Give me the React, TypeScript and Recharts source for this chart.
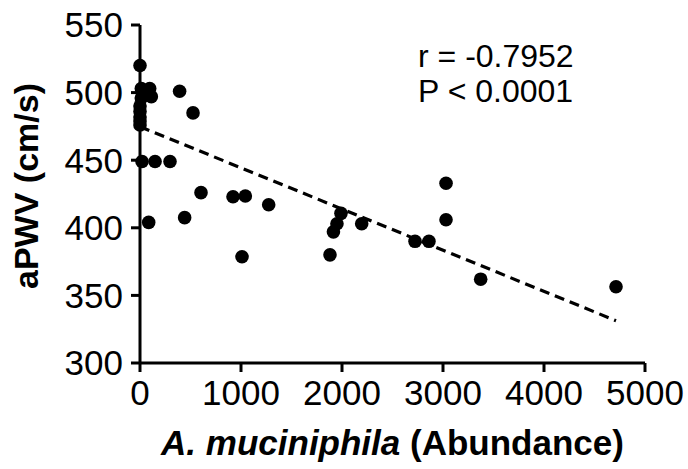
import React from 'react';
import { ScatterChart, Scatter, XAxis, YAxis, ReferenceLine, Label } from 'recharts';

const abundance = [0, 13, 96, 112, 13, 0, 0, 0, 0, 0, 392, 525, 20, 149, 297, 86, 442, 604, 921, 1043, 1274, 1010, 1990, 1950, 1915, 2195, 1881, 2723, 2861, 3030, 3030, 3373, 4713];
const apwv = [520, 503, 503, 497, 496, 490, 486, 482, 479, 476, 501, 485, 449, 449, 449, 404, 407.5, 426, 423, 423.5, 417, 378.6, 410.7, 403, 397, 403, 380, 390, 390, 433, 406, 362, 356.4];
const xTicks = [0, 1000, 2000, 3000, 4000, 5000];
const yTicks = [300, 350, 400, 450, 500, 550];
const fitX = [0, 4713];
const fitY = [474.8, 331.3];
const statLines = ['r = -0.7952', 'P < 0.0001'];
const xTitleItalic = 'A. muciniphila';
const xTitleRest = ' (Abundance)';
const yTitle = 'aPWV (cm/s)';

const points = abundance.map((x, i) => ({ x, y: apwv[i] }));
const fitSegment = [{ x: fitX[0], y: fitY[0] }, { x: fitX[1], y: fitY[1] }];

const FONT = '"Liberation Sans", Arial, sans-serif';

const Dot = (props: any) => <circle cx={props.cx} cy={props.cy} r={6.8} fill="#000" />;

export default function App() {
  return (
    <div style={{ position: 'absolute', left: 0, top: 0, width: 688, height: 469, background: '#fff', fontFamily: FONT }}>
      <ScatterChart width={688} height={469} margin={{ top: 25, right: 43, left: 0, bottom: 0 }}>
        <XAxis
          type="number"
          dataKey="x"
          domain={[0, 5000]}
          ticks={xTicks}
          interval={0}
          height={106}
          tickSize={9}
          tickMargin={8}
          axisLine={{ stroke: '#000', strokeWidth: 3 }}
          tickLine={{ stroke: '#000', strokeWidth: 3 }}
          tick={{ fill: '#000', fontSize: 35, fontFamily: FONT }}
        >
          <Label
            content={(p: any) => {
              const vb = p.viewBox;
              return (
                <text x={vb.x + vb.width / 2} y={vb.y + 92} textAnchor="middle" fontSize={35} fontWeight="bold" fontFamily={FONT} fill="#000">
                  <tspan fontStyle="italic">{xTitleItalic}</tspan>
                  <tspan>{xTitleRest}</tspan>
                </text>
              );
            }}
          />
        </XAxis>
        <YAxis
          type="number"
          dataKey="y"
          domain={[300, 550]}
          ticks={yTicks}
          interval={0}
          width={140}
          tickSize={9}
          tickMargin={8}
          axisLine={{ stroke: '#000', strokeWidth: 3 }}
          tickLine={{ stroke: '#000', strokeWidth: 3 }}
          tick={{ fill: '#000', fontSize: 35, fontFamily: FONT }}
        >
          <Label
            content={(p: any) => {
              const vb = p.viewBox;
              const cx = 38;
              const cy = vb.y + vb.height / 2 - 8;
              return (
                <text x={cx} y={cy} transform={`rotate(-90 ${cx} ${cy})`} textAnchor="middle" fontSize={34} fontWeight="bold" fontFamily={FONT} fill="#000">
                  {yTitle}
                </text>
              );
            }}
          />
        </YAxis>
        <ReferenceLine segment={fitSegment} stroke="#000" strokeWidth={3.2} strokeDasharray="10 6" ifOverflow="visible" />
        <Scatter data={points} fill="#000" shape={Dot} isAnimationActive={false} />
      </ScatterChart>
      <div style={{ position: 'absolute', left: 418, top: 39, fontSize: 32, lineHeight: '35px', color: '#000', fontFamily: FONT, whiteSpace: 'pre' }}>
        {statLines.map((s) => (
          <div key={s}>{s}</div>
        ))}
      </div>
    </div>
  );
}
